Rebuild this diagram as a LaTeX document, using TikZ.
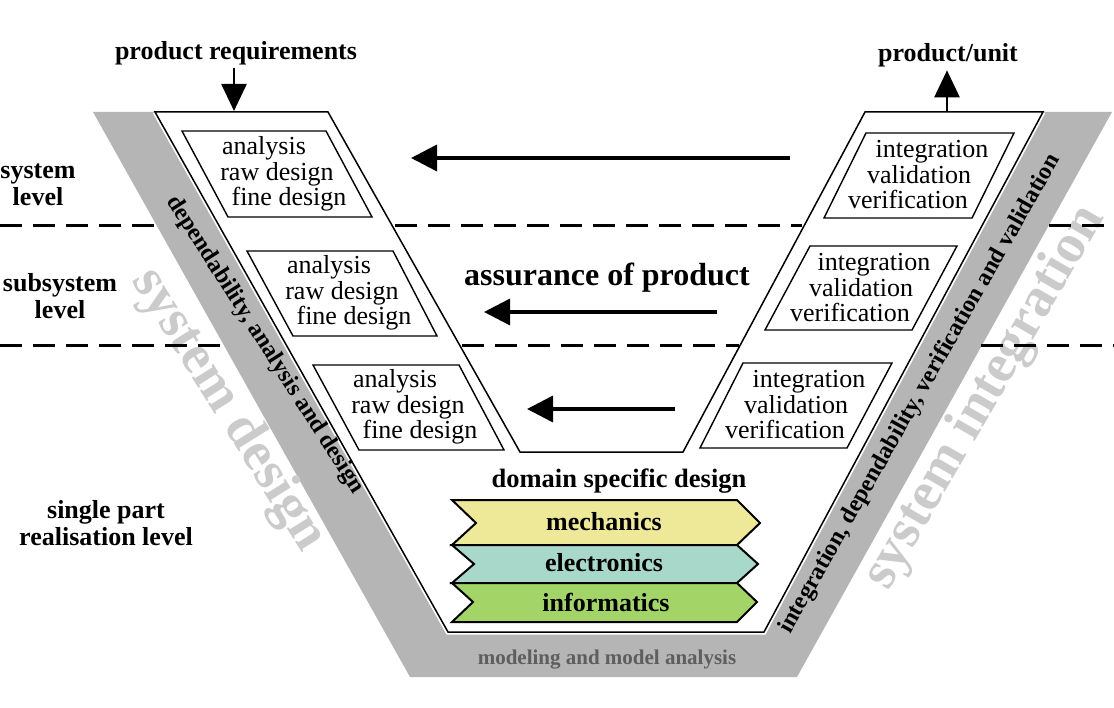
\documentclass[tikz,border=0pt]{standalone}
\usepackage{fontspec}
\setmainfont{Liberation Serif}
\usetikzlibrary{arrows.meta}
\definecolor{bandgray}{HTML}{B5B5B5}
\definecolor{ghostgray}{HTML}{CBCBCB}
\definecolor{modgray}{HTML}{5E5E5E}
\definecolor{mechyellow}{HTML}{EEE899}
\definecolor{electeal}{HTML}{A8D8C9}
\definecolor{infogreen}{HTML}{A3D468}
\begin{document}
\begin{tikzpicture}[x=1pt,y=1pt,
  lbl/.style={font=\fontsize{26}{27}\selectfont\bfseries, align=center},
  boxtxt/.style={font=\fontsize{26}{25.5}\selectfont, align=center, inner sep=0pt},
  boxline/.style={draw=black, line width=1.4pt, fill=white},
  dashline/.style={line width=3pt, dash pattern=on 22pt off 11pt},
  bigarrow/.style={line width=3.5pt, -{Triangle[length=26pt,width=26pt]}},
  toparrow/.style={line width=2.5pt, -{Triangle[length=27pt,width=25pt]}},
  bandtxt/.style={font=\fontsize{24}{24}\selectfont\bfseries, inner sep=0pt},
  ghost/.style={font=\fontsize{55}{55}\selectfont\bfseries, text=ghostgray, inner sep=0pt},
  chev/.style={draw=black, line width=2pt},
  chevtxt/.style={font=\fontsize{26}{26}\selectfont\bfseries, inner sep=0pt}]
\useasboundingbox (0,0) rectangle (1114,-708);
\fill[white] (0,0) rectangle (1114,-708);

% gray bands
\fill[bandgray] (93,-112) -- (410,-677) -- (797,-677) -- (1112,-112) -- (1043,-112)
  -- (764,-632) -- (448,-632) -- (155,-112) -- cycle;

% white V
\draw[white, line width=5pt] (155,-112) -- (448,-632) -- (764,-632) -- (1043,-112);
\draw[line width=1.5pt, fill=white] (155,-112) -- (448,-632) -- (764,-632) -- (1043,-112)
  -- (865,-112) -- (683,-452) -- (520,-452) -- (328,-112) -- cycle;

% ghost texts
\node[ghost, rotate=-58] (sysdes) at (228,-410) {system design};
\node[ghost, rotate=60] (sysint) at (985,-398) {system integration};

% dashed level lines
\draw[dashline] (0,-226) -- (157,-226);
\draw[dashline] (395,-226) -- (802,-226);
\draw[dashline] (1049,-226) -- (1114,-226);
\draw[dashline] (0,-346) -- (224,-346);
\draw[dashline] (462,-346) -- (739,-346);
\draw[dashline] (981,-346) -- (1114,-346);

% left boxes
\draw[boxline] (182,-131) -- (326,-131) -- (372,-217) -- (228,-217) -- cycle;
\draw[boxline] (247,-251) -- (393,-251) -- (437,-336) -- (293,-336) -- cycle;
\draw[boxline] (313,-365) -- (459,-365) -- (504,-450) -- (359,-450) -- cycle;
\node[boxtxt] (l1t) at (277,-174) {analysis\hspace*{26pt}\\raw design\\\hspace*{24pt}fine design};
\node[boxtxt] (l2t) at (342,-293) {analysis\hspace*{26pt}\\raw design\\\hspace*{24pt}fine design};
\node[boxtxt] (l3t) at (408,-407) {analysis\hspace*{26pt}\\raw design\\\hspace*{24pt}fine design};

% right boxes
\draw[boxline] (866,-133) -- (1014,-133) -- (972,-218) -- (824,-218) -- cycle;
\draw[boxline] (810,-246) -- (957,-246) -- (912,-330) -- (765,-330) -- cycle;
\draw[boxline] (743,-363) -- (892,-363) -- (847,-448) -- (700,-448) -- cycle;
\node[boxtxt] (r1t) at (919,-175) {\hspace*{26pt}integration\\validation\\verification\hspace*{22pt}};
\node[boxtxt] (r2t) at (861,-288) {\hspace*{26pt}integration\\validation\\verification\hspace*{22pt}};
\node[boxtxt] (r3t) at (796,-405) {\hspace*{26pt}integration\\validation\\verification\hspace*{22pt}};

% band texts
\node[bandtxt, rotate=-57.5] (depL) at (265,-345) {dependability, analysis and design};
\node[bandtxt, rotate=60.4] (depR) at (920,-394) {integration, dependability, verification and validation};
\node[font=\fontsize{21}{21}\selectfont\bfseries, text=modgray] (model) at (607,-660) {modeling and model analysis};

% level labels
\node[lbl] (syslev) at (38,-185) {system\\level};
\node[lbl] (sublev) at (60,-296) {subsystem\\level};
\node[lbl] (partlev) at (106,-523) {single part\\realisation level};

% top labels and arrows
\node[lbl] (preq) at (236,-53) {product requirements};
\node[lbl] (punit) at (948,-55) {product/unit};
\coordinate (vtopL) at (234,-111);
\coordinate (vtopR) at (947,-112);
\draw[toparrow] (preq.south -| vtopL) -- (vtopL);
\draw[toparrow] (vtopR) -- (punit.south -| vtopR);

% assurance arrows
\node[font=\fontsize{32}{32}\selectfont\bfseries] (assure) at (607,-278) {assurance of product};
\coordinate (a1s) at (790,-158); \coordinate (a1e) at (411,-158);
\coordinate (a2s) at (717,-312); \coordinate (a2e) at (484,-312);
\coordinate (a3s) at (675,-409); \coordinate (a3e) at (527,-409);
\draw[bigarrow] (a1s) -- (a1e);
\draw[bigarrow] (a2s) -- (a2e);
\draw[bigarrow] (a3s) -- (a3e);

% domain specific design
\node[font=\fontsize{26.5}{26.5}\selectfont\bfseries] (domain) at (619,-481) {domain specific design};
\draw[chev, fill=mechyellow] (452,-500) -- (737,-500) -- (760,-523) -- (737,-545) -- (452,-545) -- (476,-523) -- cycle;
\draw[chev, fill=electeal] (452,-545) -- (737,-545) -- (758,-564) -- (737,-583) -- (452,-583) -- (474,-564) -- cycle;
\draw[chev, fill=infogreen] (452,-583) -- (737,-583) -- (757,-602) -- (737,-622) -- (452,-622) -- (473,-602) -- cycle;
\node[chevtxt] (mech) at (604,-522) {mechanics};
\node[chevtxt] (elec) at (604,-563) {electronics};
\node[chevtxt] (info) at (606,-602) {informatics};
\end{tikzpicture}
\end{document}
